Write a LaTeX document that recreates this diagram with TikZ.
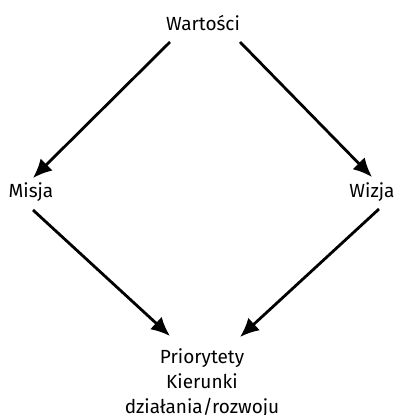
\documentclass[tikz,border=0pt]{standalone}
\usepackage{fontspec}
\setmainfont{Fira Sans}
\usetikzlibrary{arrows.meta}

\begin{document}
\begin{tikzpicture}[x=1pt, y=-1pt,
   label/.style={inner sep=0pt, font=\fontsize{19}{25}\selectfont},
   arr/.style={-{Latex[length=19pt,width=17pt]}, line width=2.8pt}
]
\useasboundingbox (0,0) rectangle (399,415);
% Nodes
\node [label, anchor=base] (wart) at (203,30) {Wartości};
\node [label, anchor=base] (misja) at (31,197) {Misja};
\node [label, anchor=base] (wizja) at (372,197) {Wizja};
\node [label, anchor=north, align=center] (prio) at (202,348) {Priorytety\\Kierunki\\działania/rozwoju};

% Arrows
\draw[arr] ([shift={(-33,12)}]wart.base) -- ([shift={(2,-19)}]misja.base);
\draw[arr] ([shift={(37,12)}]wart.base) -- ([shift={(0,-20)}]wizja.base);
\draw[arr] ([shift={(2,13)}]misja.base) -- ([shift={(-32,-12)}]prio.north);
\draw[arr] ([shift={(7,12)}]wizja.base) -- ([shift={(38,-11)}]prio.north);
\end{tikzpicture}
\end{document}
